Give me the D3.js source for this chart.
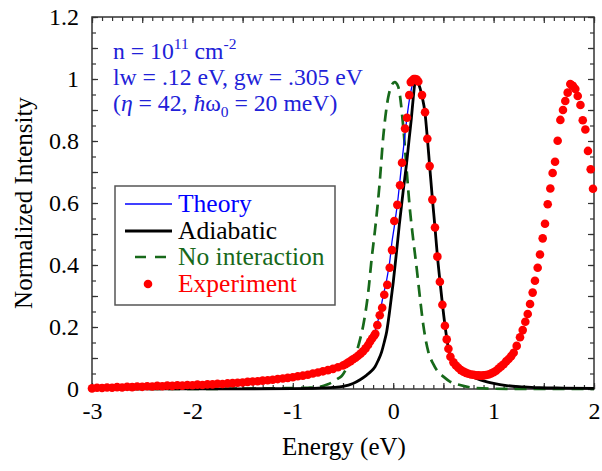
<!DOCTYPE html>
<html><head><meta charset="utf-8">
<script src="https://cdn.jsdelivr.net/npm/d3@7"></script>
<style>
html,body{margin:0;padding:0;background:#fff;}
svg text{font-family:"Liberation Serif","Times New Roman",serif;}
</style></head>
<body><svg id="c" width="602" height="471"></svg>
<script>
// ---- data ----
const xTickLabels = [-3, -2, -1, 0, 1, 2];
const yTickLabels = [0, 0.2, 0.4, 0.6, 0.8, 1, 1.2];
const legendLabels = ["Theory", "Adiabatic", "No interaction", "Experiment"];

const expX = [-3.00,-2.95,-2.90,-2.85,-2.80,-2.75,-2.70,-2.65,-2.60,-2.55,-2.50,-2.45,-2.40,-2.35,-2.30,-2.25,-2.20,-2.15,-2.10,-2.05,
 -2.00,-1.95,-1.90,-1.85,-1.80,-1.75,-1.70,-1.65,-1.60,-1.55,-1.50,-1.45,-1.40,-1.35,-1.30,-1.25,-1.20,-1.15,-1.10,-1.05,
 -1.00,-0.95,-0.90,-0.85,-0.80,-0.75,-0.70,-0.65,-0.60,-0.55,-0.50,-0.475,-0.45,-0.425,-0.40,-0.375,-0.35,-0.325,-0.30,-0.275,
 -0.25,-0.23,-0.21,-0.19,-0.178,-0.158,-0.134,-0.11,-0.089,-0.059,-0.035,-0.012,0.011,0.041,0.068,0.088,0.118,0.137,0.16,0.175,
 0.19,0.205,0.22,0.235,0.25,0.287,0.317,0.34,0.363,0.39,0.416,0.44,0.465,0.49,0.515,0.533,0.55,0.57,0.60,0.625,
 0.65,0.675,0.70,0.725,0.75,0.775,0.80,0.825,0.85,0.875,0.90,0.925,0.95,0.975,1.00,1.025,1.05,1.075,1.10,1.125,
 1.15,1.175,1.20,1.23,1.263,1.29,1.316,1.34,1.363,1.389,1.412,1.439,1.462,1.489,1.512,1.539,1.565,1.588,1.612,1.638,
 1.665,1.691,1.714,1.738,1.764,1.78,1.791,1.814,1.838,1.865,1.888,1.914,1.94,1.967,1.99];
const expY = [0.002,0.004,0.003,0.005,0.004,0.006,0.005,0.007,0.006,0.008,0.007,0.009,0.008,0.010,0.009,0.011,0.010,0.012,0.011,0.013,
 0.012,0.014,0.013,0.015,0.015,0.017,0.016,0.018,0.019,0.020,0.021,0.023,0.024,0.025,0.027,0.028,0.030,0.032,0.034,0.036,
 0.038,0.041,0.043,0.046,0.050,0.053,0.057,0.061,0.065,0.070,0.076,0.080,0.085,0.090,0.096,0.101,0.107,0.114,0.122,0.131,
 0.142,0.153,0.163,0.172,0.178,0.206,0.238,0.262,0.304,0.336,0.391,0.448,0.542,0.594,0.657,0.730,0.840,0.875,0.948,0.990,
 0.995,1.000,1.000,0.998,0.992,0.948,0.893,0.807,0.719,0.611,0.521,0.427,0.346,0.272,0.204,0.160,0.130,0.104,0.086,0.076,
 0.068,0.061,0.056,0.052,0.049,0.047,0.046,0.044,0.044,0.043,0.044,0.045,0.047,0.050,0.054,0.059,0.066,0.073,0.080,0.089,
 0.097,0.106,0.117,0.139,0.167,0.190,0.217,0.242,0.274,0.311,0.349,0.391,0.434,0.486,0.533,0.596,0.647,0.697,0.733,0.801,
 0.868,0.900,0.929,0.956,0.984,0.980,0.977,0.968,0.945,0.916,0.867,0.837,0.768,0.709,0.646];

const adiaX = [-3.0,-2.0,-1.5,-1.0,-0.75,-0.6,-0.5,-0.4,-0.33,-0.264,-0.22,-0.181,-0.15,-0.115,-0.09,-0.065,-0.032,0.001,0.035,0.061,
 0.1,0.134,0.16,0.18,0.2,0.215,0.227,0.25,0.287,0.317,0.34,0.363,0.39,0.416,0.44,0.465,0.49,0.515,0.533,0.55,
 0.57,0.6,0.665,0.73,0.8,0.9,1.0,1.13,1.3,1.46,1.7,2.0];
const adiaY = [0.0,0.0003,0.0006,0.0015,0.003,0.005,0.0085,0.018,0.03,0.045,0.057,0.072,0.092,0.12,0.15,0.185,0.26,0.346,0.448,0.53,
 0.64,0.73,0.81,0.87,0.94,0.985,1.0,0.987,0.945,0.89,0.81,0.72,0.615,0.522,0.43,0.35,0.275,0.207,0.165,0.13,
 0.105,0.085,0.06,0.047,0.038,0.026,0.018,0.011,0.007,0.004,0.003,0.002];

const theoX = [-3.0,-2.5,-2.0,-1.5,-1.0,-0.75,-0.5,-0.4,-0.3,-0.25,-0.2,-0.171,-0.131,-0.1,-0.065,-0.035,-0.012,0.011,0.05,0.078,
 0.11,0.134,0.16,0.19,0.215,0.227,0.25,0.287,0.317,0.34,0.363,0.39,0.416,0.44,0.465,0.49,0.515,0.533,0.55,0.57,
 0.6,0.665,0.73,0.8,0.9,1.0,1.13,1.3,1.46,1.7,2.0];
const theoY = [0.004,0.007,0.011,0.017,0.032,0.047,0.07,0.087,0.112,0.135,0.165,0.196,0.249,0.3,0.352,0.41,0.475,0.524,0.62,0.706,
 0.8,0.868,0.93,0.98,0.999,1.0,0.987,0.945,0.89,0.81,0.72,0.615,0.522,0.43,0.35,0.275,0.207,0.165,0.13,0.105,
 0.085,0.06,0.047,0.038,0.026,0.018,0.011,0.007,0.004,0.003,0.002];

const noIntX = [-3.0,-2.0,-1.5,-1.2,-1.0,-0.85,-0.746,-0.65,-0.547,-0.513,-0.447,-0.4,-0.364,-0.33,-0.298,-0.248,-0.214,-0.181,-0.138,-0.099,
 -0.05,-0.015,0.015,0.05,0.1,0.134,0.167,0.194,0.234,0.267,0.3,0.35,0.4,0.44,0.5,0.565,0.665,0.8,1.0,1.3,2.0];
const noIntY = [0.0,0.0005,0.001,0.002,0.003,0.004,0.006,0.015,0.034,0.042,0.077,0.1,0.122,0.16,0.206,0.314,0.422,0.513,0.653,0.814,
 0.94,0.98,0.99,0.975,0.846,0.706,0.577,0.497,0.389,0.293,0.206,0.12,0.08,0.058,0.04,0.024,0.013,0.004,0.001,0.0,0.0];

// ---- drawing ----
const svg = d3.select("#c");
const x = d3.scaleLinear().domain([-3, 2]).range([92, 594]);
const y = d3.scaleLinear().domain([0, 1.2]).range([389, 17]);
const FS = 24;

const range = (a, b, s) => d3.range(Math.round((b - a) / s) + 1).map(i => +(a + i * s).toFixed(4));
const xMinor = range(-3, 2, 0.1), xMajor = range(-3, 2, 0.5);
const yMinor = range(0, 1.2, 0.05), yMajor = range(0, 1.2, 0.1);

function tickAxis(gen, vals, size, fmt, pad) {
  return gen.tickValues(vals).tickSize(size).tickPadding(pad || 3).tickFormat(fmt || (() => ""));
}
function styleAx(g) {
  g.select(".domain").remove();
  g.selectAll(".tick line").attr("stroke", "#333").attr("stroke-width", 1.2);
  g.selectAll("text").attr("font-size", FS).attr("fill", "#000")
    .style("font-family", '"Liberation Serif","Times New Roman",serif');
}
const xFmt = d => xTickLabels.includes(d) ? String(d) : "";
const yFmt = d => yTickLabels.some(v => Math.abs(v - d) < 1e-9) ? (d === 0 ? "0" : (Math.abs(d - 1) < 1e-9 ? "1" : d.toFixed(1))) : "";

// bottom
svg.append("g").attr("transform", "translate(0,389)").call(tickAxis(d3.axisBottom(x), xMinor, -4)).call(styleAx);
svg.append("g").attr("transform", "translate(0,389)").call(tickAxis(d3.axisBottom(x), xMajor, -6, xFmt, 13)).call(styleAx);
// top
svg.append("g").attr("transform", "translate(0,17)").call(tickAxis(d3.axisTop(x), xMinor, -4)).call(styleAx);
svg.append("g").attr("transform", "translate(0,17)").call(tickAxis(d3.axisTop(x), xMajor, -6)).call(styleAx);
// left
svg.append("g").attr("transform", "translate(92,0)").call(tickAxis(d3.axisLeft(y), yMinor, -4)).call(styleAx);
svg.append("g").attr("transform", "translate(92,0)").call(tickAxis(d3.axisLeft(y), yMajor, -6, yFmt, 13)).call(styleAx);
// right
svg.append("g").attr("transform", "translate(594,0)").call(tickAxis(d3.axisRight(y), yMinor, -4)).call(styleAx);
svg.append("g").attr("transform", "translate(594,0)").call(tickAxis(d3.axisRight(y), yMajor, -6)).call(styleAx);

// frame
svg.append("rect").attr("x", x(-3)).attr("y", y(1.2)).attr("width", x(2) - x(-3)).attr("height", y(0) - y(1.2))
  .attr("fill", "none").attr("stroke", "#333").attr("stroke-width", 1.5);

// curves
const line = d3.line().x(d => x(d[0])).y(d => y(d[1])).curve(d3.curveMonotoneX);
const zip = (a, b) => a.map((v, i) => [v, b[i]]);

svg.append("path").attr("d", line(zip(noIntX, noIntY))).attr("fill", "none")
  .attr("stroke", "#17691a").attr("stroke-width", 2.7).attr("stroke-dasharray", "12,7");
svg.append("path").attr("d", line(zip(theoX, theoY))).attr("fill", "none")
  .attr("stroke", "#0000ff").attr("stroke-width", 1.3);
svg.append("path").attr("d", line(zip(adiaX, adiaY))).attr("fill", "none")
  .attr("stroke", "#000").attr("stroke-width", 2.8);

svg.append("g").selectAll("circle").data(zip(expX, expY)).join("circle")
  .attr("cx", d => x(d[0])).attr("cy", d => y(d[1])).attr("r", 4.3).attr("fill", "#ff0000");

// axis titles
svg.append("text").attr("x", 344).attr("y", 455).attr("text-anchor", "middle")
  .attr("font-size", 25).text("Energy (eV)");
svg.append("text").attr("transform", "translate(32,203) rotate(-90)").attr("text-anchor", "middle")
  .attr("font-size", 25).text("Normalized Intensity");

// annotation
const blue = "#2121d8";
const ann = svg.append("g").attr("fill", blue).attr("font-size", 23.7);
const t1 = ann.append("text").attr("x", 113).attr("y", 59);
t1.append("tspan").text("n = 10");
t1.append("tspan").attr("dy", -10).attr("font-size", 15.5).text("11");
t1.append("tspan").attr("dy", 10).text(" cm");
t1.append("tspan").attr("dy", -10).attr("font-size", 15.5).text("-2");
ann.append("text").attr("x", 113).attr("y", 85).text("lw = .12 eV, gw = .305 eV");
const t3 = ann.append("text").attr("x", 113).attr("y", 111);
t3.append("tspan").text("(");
t3.append("tspan").attr("font-style", "italic").text("\u03B7");
t3.append("tspan").text(" = 42, ");
t3.append("tspan").attr("font-style", "italic").text("\u0127");
t3.append("tspan").text("\u03C9");
t3.append("tspan").attr("dy", 6).attr("font-size", 15.5).text("0");
t3.append("tspan").attr("dy", -6).text(" = 20 meV)");

// legend
const lg = svg.append("g");
lg.append("rect").attr("x", 115).attr("y", 186).attr("width", 220).attr("height", 119)
  .attr("fill", "#fff").attr("stroke", "#555").attr("stroke-width", 1.5);
const rows = [204, 231, 257, 284];
lg.append("line").attr("x1", 125).attr("x2", 172).attr("y1", rows[0]).attr("y2", rows[0]).attr("stroke", "#0000ff").attr("stroke-width", 1.3);
lg.append("line").attr("x1", 125).attr("x2", 172).attr("y1", rows[1]).attr("y2", rows[1]).attr("stroke", "#000").attr("stroke-width", 2.8);
lg.append("line").attr("x1", 135).attr("x2", 170).attr("y1", rows[2]).attr("y2", rows[2]).attr("stroke", "#17691a").attr("stroke-width", 2.7).attr("stroke-dasharray", "11,9");
lg.append("circle").attr("cx", 148).attr("cy", rows[3]).attr("r", 4.3).attr("fill", "#ff0000");
const lgColors = ["#0000ff", "#000", "#17691a", "#ff0000"];
legendLabels.forEach((t, i) => {
  lg.append("text").attr("x", 178).attr("y", rows[i] + 7.5).attr("font-size", 25.5).attr("fill", lgColors[i]).text(t);
});
</script></body></html>
